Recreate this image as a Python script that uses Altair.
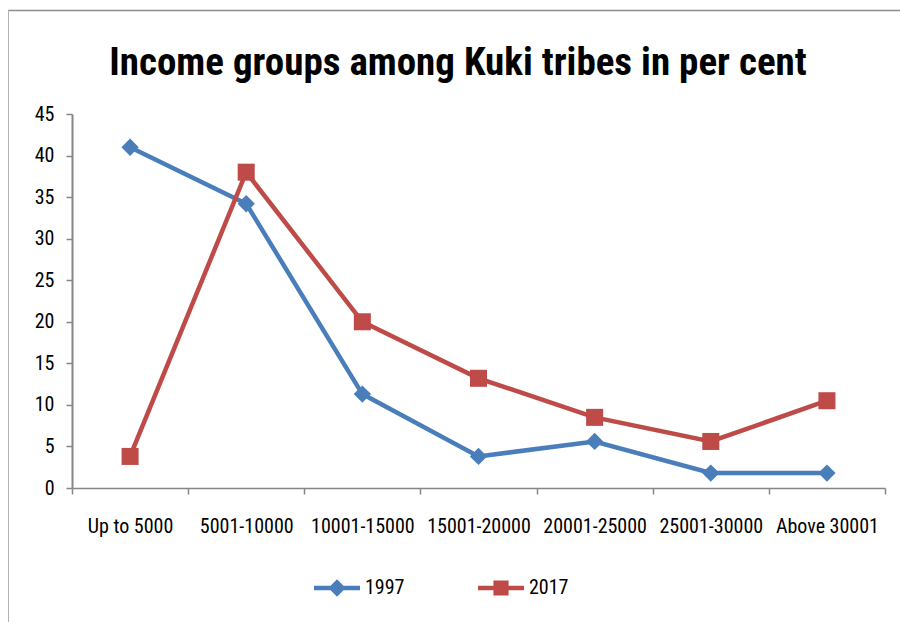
import altair as alt
import pandas as pd

categories = ["Up to 5000", "5001-10000", "10001-15000", "15001-20000",
              "20001-25000", "25001-30000", "Above 30001"]
series_names = ["1997", "2017"]
v1997 = [41, 34.2, 11.3, 3.8, 5.6, 1.8, 1.8]
v2017 = [3.8, 38, 20, 13.2, 8.5, 5.6, 10.5]
y_ticks = [0, 5, 10, 15, 20, 25, 30, 35, 40, 45]
title_text = "Income groups among Kuki tribes in per cent"

rows = []
for c, a, b in zip(categories, v1997, v2017):
    rows.append({"category": c, "series": "1997", "value": a})
    rows.append({"category": c, "series": "2017", "value": b})
df = pd.DataFrame(rows)

FONT = "Roboto Condensed, Liberation Sans Narrow, Liberation Sans, sans-serif"
BLUE = "#4A7EBB"
RED = "#BE4B48"
AXIS_GREY = "#868686"

x_enc = alt.X(
    "category:N", sort=categories, bandPosition=0.5,
    scale=alt.Scale(type="band", paddingInner=0, paddingOuter=0),
    axis=alt.Axis(title=None, tickBand="extent", labelAngle=0, labelFontSize=20,
                  labelPadding=22, labelOverlap=False, labelFont=FONT,
                  labelColor="black", domainColor=AXIS_GREY, tickColor=AXIS_GREY,
                  tickSize=6, domainWidth=1.5, tickWidth=1.5, grid=False),
)
y_enc = alt.Y(
    "value:Q", scale=alt.Scale(domain=[0, 45], nice=False, zero=True),
    axis=alt.Axis(title=None, values=y_ticks, grid=False, tickSize=6, labelPadding=12,
                  labelFontSize=20, labelFont=FONT, labelColor="black",
                  domainColor=AXIS_GREY, tickColor=AXIS_GREY, domainWidth=2,
                  tickWidth=1.5),
)
color_scale = alt.Scale(domain=series_names, range=[BLUE, RED])

base = alt.Chart(df)
b97 = base.transform_filter(alt.datum.series == "1997")
b17 = base.transform_filter(alt.datum.series == "2017")

line97 = b97.mark_line(strokeWidth=4.5, color=BLUE).encode(x=x_enc, y=y_enc)
line17 = b17.mark_line(strokeWidth=4.5, color=RED).encode(x=x_enc, y=y_enc)

pts97 = b97.mark_point(shape="diamond", filled=True, size=300, opacity=1,
                       color=BLUE).encode(x=x_enc, y=y_enc)
pts17 = b17.mark_point(shape="square", filled=True, size=290, opacity=1,
                       color=RED).encode(x=x_enc, y=y_enc)

path_diamond = ("M-1,-0.1L-0.28,-0.1L0,-0.38L0.28,-0.1L1,-0.1L1,0.1L0.28,0.1"
                "L0,0.38L-0.28,0.1L-1,0.1Z")
path_square = ("M-1,-0.1L-0.33,-0.1L-0.33,-0.33L0.33,-0.33L0.33,-0.1L1,-0.1L1,0.1"
               "L0.33,0.1L0.33,0.33L-0.33,0.33L-0.33,0.1L-1,0.1Z")

legend_cfg = dict(orient="none", legendX=242, legendY=451, direction="horizontal",
                  title=None, symbolSize=2116, symbolOpacity=1, symbolStrokeWidth=0,
                  labelFontSize=20, labelFont=FONT, labelColor="black",
                  labelOffset=5, columnPadding=73, padding=0)

legend_layer = base.mark_point(filled=True, opacity=0).encode(
    x=x_enc, y=y_enc,
    color=alt.Color("series:N", scale=color_scale, legend=alt.Legend(**legend_cfg)),
    shape=alt.Shape("series:N", scale=alt.Scale(domain=series_names,
                                                range=[path_diamond, path_square]),
                    legend=alt.Legend(**legend_cfg)),
)

one = alt.Chart(pd.DataFrame({"a": [0]}))
frame_top = one.mark_rule(color="#8c8c8c", strokeWidth=1.5).encode(
    x=alt.value(-64), x2=alt.value(900), y=alt.value(-103.5))
frame_left = one.mark_rule(color="#b3b3b3", strokeWidth=1).encode(
    x=alt.value(-63.5), y=alt.value(-104), y2=alt.value(600))
title_mark = one.mark_text(text=title_text, fontSize=39, font=FONT, fontWeight="bold",
                           align="center", baseline="alphabetic", color="black").encode(
    x=alt.value(386), y=alt.value(-39))

chart = alt.layer(frame_top, frame_left, title_mark, line97, line17, pts97, pts17,
                  legend_layer).properties(
    width=813, height=374,
    autosize=alt.AutoSizeParams(type="none"),
    padding={"left": 72, "top": 114, "right": 15, "bottom": 134},
).configure(background="white").configure_view(strokeWidth=0, stroke="transparent")

chart.save("out.html", embed_options={"renderer": "svg", "actions": False})
